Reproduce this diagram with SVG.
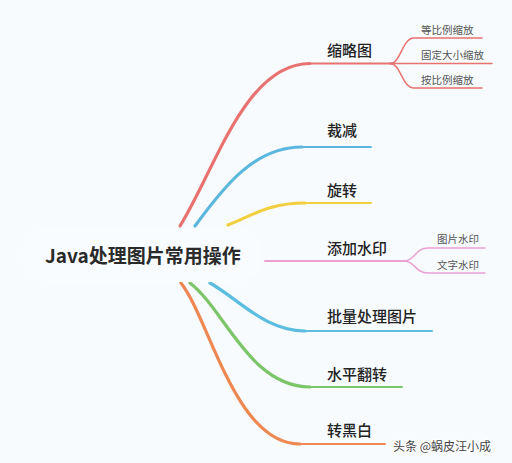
<svg xmlns="http://www.w3.org/2000/svg" width="512" height="463" viewBox="0 0 512 463">
<style>
.c{fill:none;stroke-linecap:round}
.m{stroke-width:3.2}
.h{stroke-width:2}
.s{stroke-width:1.5}
.t{font-family:"Noto Sans CJK SC","Noto Sans",sans-serif;fill:#222}
.lb{font-size:15px;font-weight:500}
.sm{font-size:10.5px;fill:#555}
.root{font-size:19px;font-weight:700;fill:#2a2a2a}
</style>
<rect width="512" height="463" fill="#f7fbfe"/>
<g id="connectors">
  <g stroke="#e8726f" class="c">
    <path class="m" d="M180,226 C215,170 245,63.5 310,63.5"/>
    <path class="h" d="M309,63.5 L392,63.5"/>
    <path class="s" d="M390,63.5 C401,63.5 402,38 414,38 L482,38"/>
    <path class="s" d="M390,63.5 L492,63.5"/>
    <path class="s" d="M390,63.5 C401,63.5 402,88 414,88 L482,88"/>
  </g>
  <g stroke="#5bb7de" class="c">
    <path class="m" d="M195,226 C225,185 255,147 302,147"/>
    <path class="h" d="M300,147 L371,147"/>
  </g>
  <g stroke="#f1cf3e" class="c">
    <path class="m" d="M228,225 C255,214 270,203 305,203"/>
    <path class="h" d="M303,203 L371,203"/>
  </g>
  <g stroke="#e9a0d4" class="c">
    <path class="h" d="M265,261 L406,261"/>
    <path class="s" d="M404,261 C415,261 415,248 428,248 L485,248"/>
    <path class="s" d="M404,261 C415,261 415,273 428,273 L485,273"/>
  </g>
  <g stroke="#5bbde0" class="c">
    <path class="m" d="M210,283 C240,300 265,331 305,331"/>
    <path class="h" d="M303,331 L432,331"/>
  </g>
  <g stroke="#7cc569" class="c">
    <path class="m" d="M190,283 C225,310 250,387 310,387"/>
    <path class="h" d="M308,387 L402,387"/>
  </g>
  <g stroke="#ee8852" class="c">
    <path class="m" d="M181,283 C210,320 235,444 300,444"/>
    <path class="h" d="M298,444 L385,444"/>
  </g>
</g>
<g id="root">
  <rect x="22" y="228" width="240" height="54" rx="27" fill="#f9fcfe"/>
  <text class="t root" x="45" y="263">Java处理图片常用操作</text>
</g>
<g id="n-suolvetu"><text class="t lb" x="327" y="55.5">缩略图</text></g>
<g id="n-dengbili"><text class="t sm" x="421" y="33.5">等比例缩放</text></g>
<g id="n-guding"><text class="t sm" x="421" y="58.5">固定大小缩放</text></g>
<g id="n-anbili"><text class="t sm" x="421" y="83.5">按比例缩放</text></g>
<g id="n-caijian"><text class="t lb" x="327" y="135.5">裁减</text></g>
<g id="n-xuanzhuan"><text class="t lb" x="327" y="195.5">旋转</text></g>
<g id="n-shuiyin"><text class="t lb" x="327" y="253.5">添加水印</text></g>
<g id="n-tupian"><text class="t sm" x="437" y="242.5">图片水印</text></g>
<g id="n-wenzi"><text class="t sm" x="437" y="268.5">文字水印</text></g>
<g id="n-piliang"><text class="t lb" x="327" y="321.5">批量处理图片</text></g>
<g id="n-fanzhuan"><text class="t lb" x="327" y="379.5">水平翻转</text></g>
<g id="n-heibai"><text class="t lb" x="327" y="435.5">转黑白</text></g>
<text x="393" y="451" font-family="Noto Sans CJK SC,sans-serif" font-size="12" fill="#444" stroke="#fff" stroke-width="2" paint-order="stroke">头条 @蜗皮汪小成</text>
</svg>
